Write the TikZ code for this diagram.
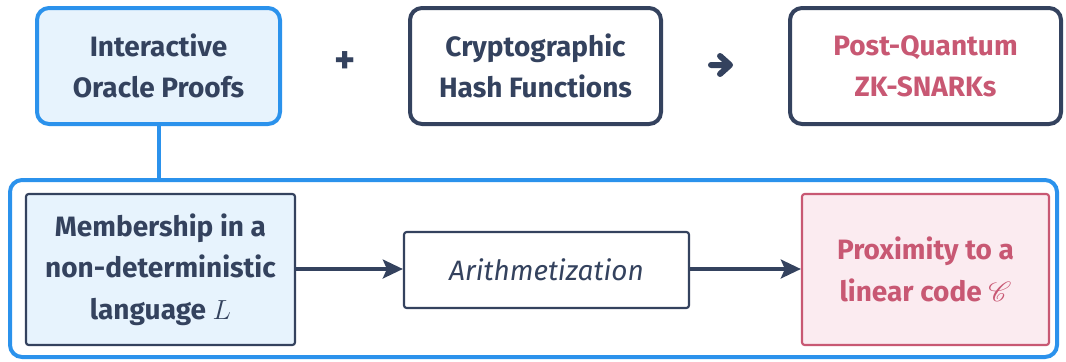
\documentclass[tikz,border=0pt]{standalone}
\usepackage{fontspec}
\setmainfont{Fira Sans}
\usepackage{mathrsfs}
\usetikzlibrary{arrows.meta}
\definecolor{cblue}{HTML}{2B92EC}
\definecolor{cdark}{HTML}{34425E}
\definecolor{cpink}{HTML}{C85873}
\definecolor{lblue}{HTML}{E7F3FD}
\definecolor{lpink}{HTML}{FBEBF0}
\tikzset{
  txt/.style={font=\fontsize{21}{31}\selectfont\bfseries, align=center, text=cdark},
  topbox/.style={draw, line width=3pt, rounded corners=9pt, inner sep=0pt},
  lowbox/.style={draw, line width=1.6pt, rounded corners=2pt, inner sep=0pt},
  conn/.style={draw=cdark, line width=3pt, -{Stealth[length=15pt,width=14pt,inset=3pt]}},
}
\begin{document}
\begin{tikzpicture}[x=0.75pt,y=-0.75pt]
\useasboundingbox (0,0) rectangle (1066,361);
% top row
\node[topbox, draw=cblue, fill=lblue, minimum width=243*0.75pt, minimum height=116*0.75pt] (iop) at (158.5,66) {};
\node[txt] at (iop.center) {Interactive\\Oracle Proofs};
\node[topbox, draw=cdark, fill=white, minimum width=251*0.75pt, minimum height=116*0.75pt] (hash) at (535.5,66) {};
\node[txt] at (hash.center) {Cryptographic\\Hash Functions};
\node[topbox, draw=cdark, fill=white, minimum width=271*0.75pt, minimum height=116*0.75pt] (snark) at (925.5,66) {};
\node[txt, text=cpink] at (snark.center) {Post-Quantum\\ZK-SNARKs};
\node[txt, font=\fontsize{30}{30}\selectfont\bfseries] (plus) at (345,63) {+};
% arrow symbol
\coordinate (ar) at (721,65);
\draw[cdark, line width=4.5pt, line cap=round, line join=round]
  ([xshift=-10*0.75pt]ar) -- ([xshift=9*0.75pt]ar)
  ([xshift=-1*0.75pt,yshift=9*0.75pt]ar) -- ([xshift=9*0.75pt]ar) -- ([xshift=-1*0.75pt,yshift=-9*0.75pt]ar);
% container
\node[topbox, draw=cblue, minimum width=1047*0.75pt, minimum height=177*0.75pt] (cont) at (533.5,268.5) {};
\draw[cblue, line width=3pt] (iop.south) -- (iop.south |- cont.north);
% lower row
\node[lowbox, draw=cdark, fill=lblue, minimum width=269*0.75pt, minimum height=151*0.75pt] (mem) at (160.5,269.5) {};
\node[txt] at (mem.center) {Membership in a\\non-deterministic\\language $L$};
\node[lowbox, draw=cdark, fill=white, minimum width=285*0.75pt, minimum height=76*0.75pt] (ari) at (546.5,270) {};
\node[txt, font=\fontsize{21}{31}\selectfont\itshape] at (ari.center) {Arithmetization};
\node[lowbox, draw=cpink, fill=lpink, minimum width=247*0.75pt, minimum height=151*0.75pt] (prox) at (925.5,269.5) {};
\node[txt, text=cpink] at (prox.center) {Proximity to a\\linear code $\mathscr{C}$};
\draw[conn] (mem.east |- 0,269) -- (ari.west |- 0,269);
\draw[conn] (ari.east |- 0,269) -- (prox.west |- 0,269);
\end{tikzpicture}
\end{document}
